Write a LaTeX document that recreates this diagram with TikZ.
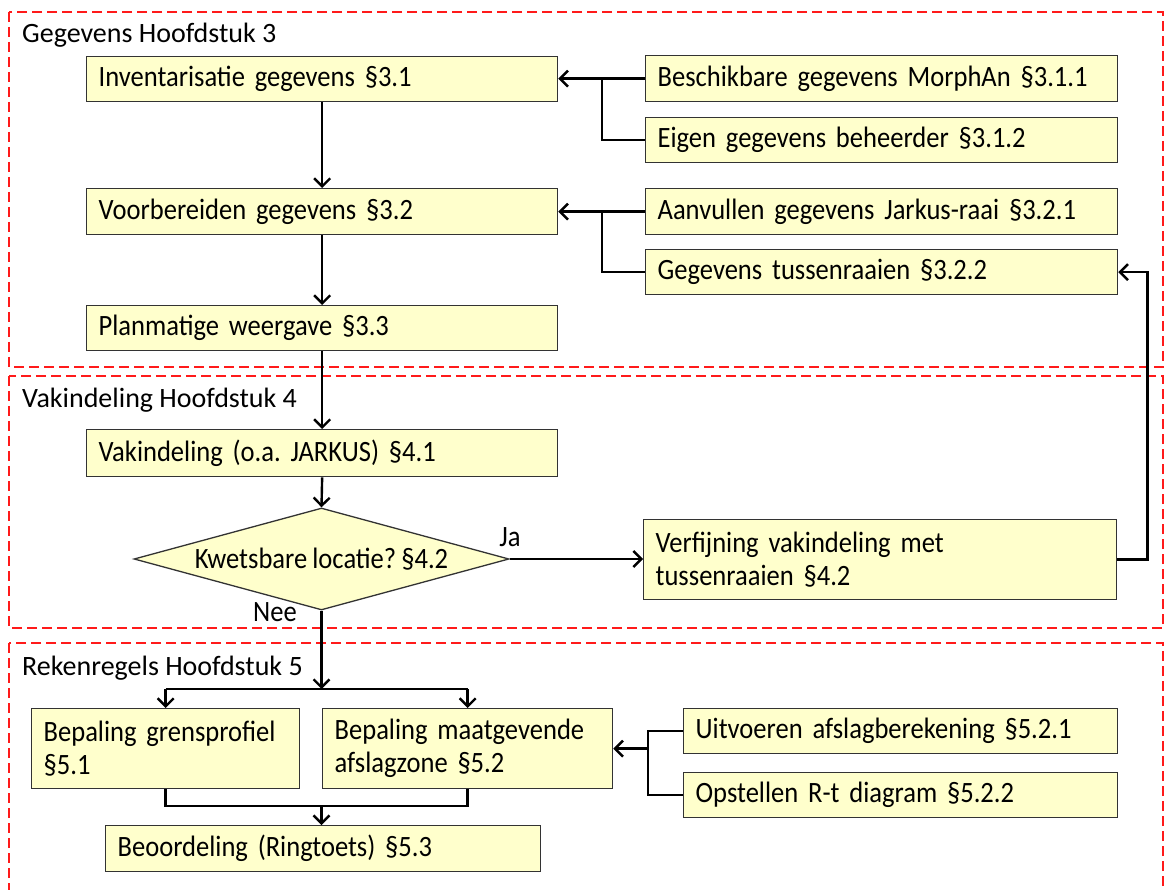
\documentclass[tikz,border=0pt]{standalone}
\usepackage{fontspec}
\setmainfont{Carlito}
\newfontfamily\boxfont{Carlito}[FakeStretch=0.9,WordSpace=0.85]
\usetikzlibrary{arrows.meta,shapes.geometric,calc}
\definecolor{boxfill}{HTML}{FFFFCC}
\definecolor{boxline}{HTML}{333333}
\definecolor{framered}{HTML}{FF1A1A}
\frenchspacing
\begin{document}
\begin{tikzpicture}[x=1pt,y=-1pt,
  chapframe/.style={draw=framered, line width=1.1pt, dash pattern=on 10pt off 5pt},
  box/.style={draw=boxline, fill=boxfill, line width=1.3pt, anchor=north west,
    inner xsep=12pt, inner ysep=0pt, align=left, font=\boxfont\fontsize{29.5}{33}\selectfont},
  dia/.style={draw=boxline, fill=boxfill, line width=1.3pt, diamond, inner sep=0pt,
    minimum width=375pt, minimum height=102pt, font=\boxfont\fontsize{29.5}{33}\selectfont},
  conn/.style={line width=2.4pt, black},
  arr/.style={conn, -{Straight Barb[length=8pt,width=16pt]}},
  title/.style={anchor=base west, inner sep=0pt, font=\fontsize{28}{33}\selectfont},
  lbl/.style={inner sep=0pt, font=\boxfont\fontsize{29.5}{33}\selectfont}]
\clip (0,0) rectangle (1165,890);
\fill[white] (0,0) rectangle (1165,890);

% frames
\draw[chapframe] (9,12) rectangle (1163,367);
\draw[chapframe] (9,376) rectangle (1163,628);
\draw[chapframe] (9,643) rectangle (1163,900);

% titles
\node[title] (t1) at (22,43) {Gegevens Hoofdstuk 3};
\node[title] (t2) at (22,408) {Vakindeling Hoofdstuk 4};
\node[title] (t3) at (22,675) {Rekenregels Hoofdstuk 5};

% chapter 3
\node[box, text width=447pt, minimum height=45pt] (A) at (86,56) {Inventarisatie gegevens §3.1};
\node[box, text width=448pt, minimum height=46pt] (B) at (645,55) {Beschikbare gegevens MorphAn §3.1.1};
\node[box, text width=448pt, minimum height=45pt] (C) at (645,117) {Eigen gegevens beheerder §3.1.2};
\node[box, text width=447pt, minimum height=46pt] (D) at (86,188) {Voorbereiden gegevens §3.2};
\node[box, text width=448pt, minimum height=46pt] (E) at (645,188) {Aanvullen gegevens Jarkus-raai §3.2.1};
\node[box, text width=448pt, minimum height=45pt] (F) at (645,249) {Gegevens tussenraaien §3.2.2};
\node[box, text width=447pt, minimum height=45pt] (G) at (86,305) {Planmatige weergave §3.3};

% chapter 4
\node[box, text width=447pt, minimum height=47pt] (H) at (86,429) {Vakindeling (o.a. JARKUS) §4.1};
\node[dia] (Q) at (321.5,559) {\makebox[0pt]{Kwetsbare locatie? §4.2}};
\node[box, text width=449pt, minimum height=80pt] (I) at (643,519) {Verfijning vakindeling met\\tussenraaien §4.2};
\node[lbl] (ja) at (510,537) {Ja};
\node[lbl] (nee) at (275,612) {Nee};

% chapter 5
\node[box, text width=244pt, minimum height=80pt] (J) at (31,708) {Bepaling grensprofiel\\§5.1};
\node[box, text width=266pt, minimum height=80pt] (K) at (322,708) {Bepaling maatgevende\\afslagzone §5.2};
\node[box, text width=410pt, minimum height=45pt] (L) at (683,708) {Uitvoeren afslagberekening §5.2.1};
\node[box, text width=410pt, minimum height=45pt] (N) at (683,772) {Opstellen R-t diagram §5.2.2};
\node[box, text width=411pt, minimum height=46pt] (M) at (105,825) {Beoordeling (Ringtoets) §5.3};

% connectors chapter 3
\draw[arr] (B.west) -- (B.west -| A.east);
\coordinate (j1) at ($(B.west)+(-43,0)$);
\draw[conn] (j1) |- (C.west);
\draw[arr] (E.west) -- (E.west -| D.east);
\coordinate (j2) at ($(E.west)+(-43,0)$);
\draw[conn] (j2) |- (F.west);
\draw[arr] (A.south) -- (D.north);
\draw[arr] (D.south) -- (G.north);
\draw[arr] (G.south) -- (H.north);
\draw[arr] (H.south) -- (Q.north);

% chapter 4
\draw[arr] (Q.east) -- (Q.east -| I.west);
\draw[arr] (I.east) -- ++(30,0) |- (F.east);

% chapter 5
\coordinate (s1) at (321.5,689);
\draw[arr] (Q.south) -- (s1);
\draw[conn] (J.north |- s1) -- (K.north |- s1);
\draw[arr] (J.north |- s1) -- (J.north);
\draw[arr] (K.north |- s1) -- (K.north);
\coordinate (s2) at (321.5,806);
\draw[conn] (J.south) |- (s2) -| (K.south);
\draw[arr] (s2) -- (s2 |- M.north);
\coordinate (j3) at ($(L.west)+(-35,0)$);
\draw[conn] (L.west) -- (j3) |- (N.west);
\draw[arr] (j3 |- K.east) -- (K.east);
\end{tikzpicture}
\end{document}
